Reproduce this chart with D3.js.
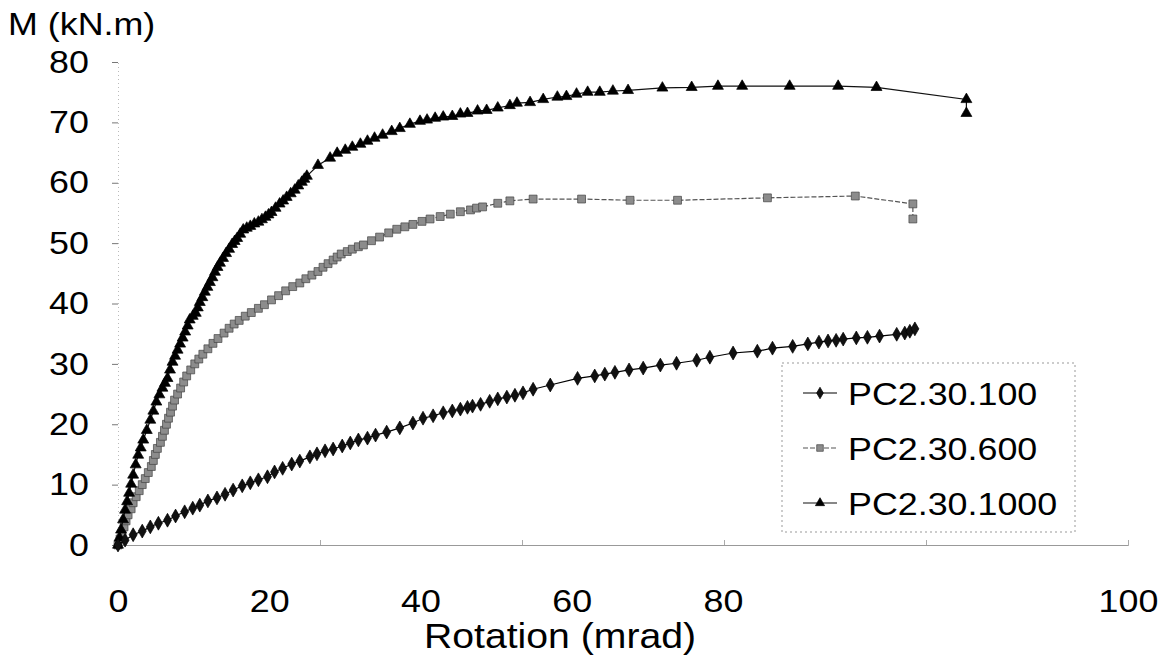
<!DOCTYPE html>
<html>
<head>
<meta charset="utf-8">
<script src="https://cdn.jsdelivr.net/npm/d3@7"></script>
<style>
  body { margin: 0; background: #fff; }
  text { font-family: "Liberation Sans", Arial, sans-serif; fill: #000; }
</style>
</head>
<body>
<svg id="chart" width="1168" height="666"></svg>
<script>

// rotation (mrad), moment (kN.m)
const pc100 = [
	[0,0],[0.7,0.8],[1.5,1.7],[2.4,2.3],[3.2,3.0],[4.0,3.6],[4.9,4.1],[5.7,4.8],[6.6,5.5],[7.4,6.1],
	[8.1,6.6],[8.9,7.3],[9.8,7.8],[10.6,8.4],[11.4,9.1],[12.3,9.8],[13.1,10.3],[13.9,10.8],[14.8,11.3],
	[15.5,12.1],[16.3,12.7],[17.2,13.4],[18.0,13.9],[19.0,14.6],[19.7,15.1],[20.5,15.6],[21.3,15.9],
	[22.2,16.4],[23.0,16.9],[23.8,17.4],[24.7,17.7],[25.5,18.2],[26.6,18.7],[27.9,19.4],[29.2,20.2],
	[30.2,21.0],[31.2,21.4],[32.2,21.9],[33.1,22.2],[33.9,22.5],[34.6,22.8],[35.1,23.0],[35.9,23.3],
	[36.8,23.8],[37.6,24.2],[38.5,24.5],[39.3,24.8],[40.1,25.2],[41.1,25.8],[42.8,26.5],[45.5,27.6],
	[47.2,28.0],[48.2,28.3],[49.2,28.6],[50.6,29.0],[52.0,29.3],[53.7,29.8],[55.3,30.1],[57.3,30.6],
	[58.6,31.1],[60.9,31.8],[63.3,32.1],[64.8,32.6],[66.8,32.9],[68.3,33.3],[69.4,33.6],[70.3,33.8],
	[71.1,33.9],[71.8,34.1],[73.1,34.3],[74.2,34.4],[75.4,34.6],[77.1,34.9],[77.9,35.1],[78.4,35.4],[78.9,35.8]
]
const pc600 = [
	[0,0],[0.2,1.0],[0.4,2.0],[0.6,3.0],[0.8,4.0],[1.0,5.0],[1.3,6.0],[1.5,7.0],[1.8,8.0],[2.1,9.0],
	[2.4,10.0],[2.7,11.0],[3.0,12.0],[3.3,13.0],[3.5,14.0],[3.7,15.0],[3.9,16.0],[4.2,17.0],[4.4,18.0],
	[4.6,19.0],[4.8,20.0],[5.0,21.0],[5.2,22.0],[5.4,23.0],[5.6,24.0],[5.9,25.0],[6.2,26.0],[6.5,27.0],
	[6.8,28.0],[7.2,29.0],[7.6,30.0],[8.0,30.8],[8.4,31.6],[8.9,32.5],[9.4,33.4],[9.9,34.2],[10.5,35.1],
	[11.0,35.9],[11.5,36.6],[12.0,37.2],[12.6,37.9],[13.2,38.5],[13.9,39.2],[14.5,39.8],[15.2,40.6],
	[15.9,41.3],[16.6,42.1],[17.3,42.8],[18.0,43.4],[18.6,44.1],[19.2,44.7],[19.8,45.3],[20.3,46.0],
	[20.8,46.6],[21.3,47.2],[21.7,47.7],[22.1,48.2],[22.7,48.6],[23.2,49.0],[23.8,49.4],[24.3,49.7],
	[25.1,50.4],[25.9,51.0],[26.8,51.7],[27.6,52.3],[28.4,52.7],[29.2,53.1],[30.1,53.6],[30.9,54.0],
	[31.9,54.4],[32.9,54.8],[33.9,55.2],[34.9,55.5],[35.5,55.8],[36.1,56.0],
	[37.6,56.6],[38.8,57.0],[41.1,57.3],[45.9,57.3],[50.7,57.1],[55.4,57.1],[64.3,57.5],[73.0,57.8],
	[78.7,56.5],[78.7,54.0]
]
const pc1000 = [
	[0,0],[0.15,1.2],[0.3,2.5],[0.5,4.2],[0.7,5.8],[0.9,7.2],[1.1,8.6],[1.3,10.1],[1.5,11.6],[1.75,13.3],
	[2.0,14.9],[2.25,16.1],[2.5,17.4],[2.85,19.0],[3.2,20.7],[3.5,22.2],[3.8,23.7],[4.1,24.9],[4.4,26.0],
	[4.65,26.8],[4.9,27.6],[5.15,29.0],[5.4,30.3],[5.65,31.3],[5.9,32.3],[6.15,33.3],[6.4,34.3],[6.65,35.3],
	[6.9,36.3],[7.1,37.3],[7.4,37.9],[7.7,38.4],[7.9,39.3],[8.1,40.2],[8.35,41.0],[8.6,41.9],[8.85,42.7],
	[9.1,43.5],[9.35,44.3],[9.6,45.2],[9.85,46.0],[10.1,46.7],[10.4,47.5],[10.7,48.3],[11.0,49.0],
	[11.3,49.8],[11.55,50.3],[11.8,50.8],[12.1,51.5],[12.4,52.2],[12.75,52.5],[13.1,52.8],[13.5,53.2],
	[13.9,53.5],[14.25,53.9],[14.6,54.3],[14.9,54.7],[15.2,55.1],[15.6,55.8],[16.0,56.5],[16.35,57.0],
	[16.7,57.6],[17.1,58.2],[17.5,58.8],[17.85,59.5],[18.2,60.1],[18.45,60.6],[18.7,61.1],
	[19.8,62.9],[21.0,64.1],[21.7,64.9],[22.5,65.4],[23.2,65.9],[24.0,66.4],[24.7,66.9],[25.4,67.4],
	[26.2,67.9],[27.1,68.5],[27.9,69.0],[28.9,69.7],[29.9,70.2],[30.6,70.4],[31.4,70.7],[32.2,70.9],
	[33.1,71.0],[33.9,71.4],[34.6,71.5],[35.6,71.9],[36.5,72.0],[37.6,72.4],[38.8,72.8],[39.5,73.2],
	[40.8,73.3],[42.1,73.8],[43.5,74.2],[44.4,74.3],[45.4,74.7],[46.5,75.0],[47.7,75.0],[49.0,75.2],
	[50.5,75.3],[53.9,75.7],[56.8,75.8],[59.4,76.0],[61.8,76.0],[66.5,76.0],[71.3,76.0],[75.1,75.8],
	[84.0,73.8],[84.0,71.5]
]

const seriesNames = ["PC2.30.100","PC2.30.600","PC2.30.1000"]
const yTicks = [0,10,20,30,40,50,60,70,80]
const xTicks = [0,20,40,60,80,100]
// where the x tick labels sit in the picture (they drift from the gridded positions)
const xLabelDomain = [0,80,100]

const textStretch = "scale(1.12,1)"

const svg = d3.select("#chart")

const x = d3.scaleLinear().domain([0,100]).range([118,1128])
const y = d3.scaleLinear().domain([0,80]).range([545,62])
const xLabel = d3.scaleLinear().domain(xLabelDomain).range([118,723,1128])

const styles = [
	{shape:d3.symbolDiamond, size:55, fill:"#111", stroke:"#000", line:"#000", dash:null},
	{shape:d3.symbolSquare, size:62, fill:"#8c8c8c", stroke:"#444", line:"#555", dash:"5,2"},
	{shape:d3.symbolTriangle, size:52, fill:"#000", stroke:"#000", line:"#111", dash:null}
]

// axes
let yAxis = svg.append("g")
	.attr("transform","translate(118,0)")
	.call(d3.axisLeft(y).tickValues(yTicks).tickSize(6).tickPadding(20))
yAxis.select(".domain").attr("stroke","#bbb").attr("stroke-dasharray","1,3")
yAxis.selectAll(".tick line").attr("stroke","#777")
yAxis.selectAll(".tick text")
	.attr("transform",textStretch)
	.style("font-size","32px")
	.attr("fill","#000")

let xGrid = svg.append("g")
	.attr("transform","translate(0,545)")
	.call(d3.axisBottom(x).tickValues([20,40,60,80,100]).tickSize(-5).tickFormat(""))
xGrid.select(".domain").attr("stroke","#999")
xGrid.selectAll(".tick line").attr("stroke","#aaa")

let xAxis = svg.append("g")
	.attr("transform","translate(0,545)")
	.call(d3.axisBottom(xLabel).tickValues(xTicks).tickSize(0).tickPadding(44).tickFormat(d3.format("d")))
xAxis.select(".domain").remove()
xAxis.selectAll(".tick text")
	.attr("transform",textStretch)
	.style("font-size","32px")
	.attr("fill","#000")

svg.append("text")
	.attr("transform","translate(8,35) " + textStretch)
	.style("font-size","32px")
	.text("M (kN.m)")

svg.append("text")
	.attr("transform","translate(560,648) " + textStretch)
	.attr("text-anchor","middle")
	.style("font-size","35px")
	.text("Rotation (mrad)")

// curves
let line = d3.line().x(d => x(d[0])).y(d => y(d[1]))
let drawOrder = [1,2,0]
let allSeries = [pc100,pc600,pc1000]
for(let i of drawOrder){
	let st = styles[i]
	let g = svg.append("g")
	g.append("path")
		.datum(allSeries[i])
		.attr("d",line)
		.attr("fill","none")
		.attr("stroke",st.line)
		.attr("stroke-width",1.2)
		.attr("stroke-dasharray",st.dash)
	g.selectAll("path.pt")
		.data(allSeries[i])
		.join("path")
		.attr("class","pt")
		.attr("transform",d => "translate(" + x(d[0]) + "," + y(d[1]) + ")")
		.attr("d",d3.symbol(st.shape,st.size))
		.attr("fill",st.fill)
		.attr("stroke",st.stroke)
		.attr("stroke-width",0.7)
}

// legend
let legend = svg.append("g")
legend.append("rect")
	.attr("x",782).attr("y",363)
	.attr("width",293).attr("height",169)
	.attr("fill","#fff")
	.attr("stroke","#999")
	.attr("stroke-dasharray","2,3")
seriesNames.forEach((name,i) => {
	let st = styles[i]
	let cy = 393 + i*55
	legend.append("line")
		.attr("x1",803).attr("x2",837)
		.attr("y1",cy).attr("y2",cy)
		.attr("stroke",st.line)
		.attr("stroke-width",1.2)
		.attr("stroke-dasharray",st.dash)
	legend.append("path")
		.attr("transform","translate(820," + cy + ")")
		.attr("d",d3.symbol(st.shape,st.size * 0.7))
		.attr("fill",st.fill)
		.attr("stroke",st.stroke)
		.attr("stroke-width",0.7)
	legend.append("text")
		.attr("transform","translate(848," + (cy + 12) + ") " + textStretch)
		.style("font-size","32px")
		.text(name)
})

</script>
</body>
</html>
